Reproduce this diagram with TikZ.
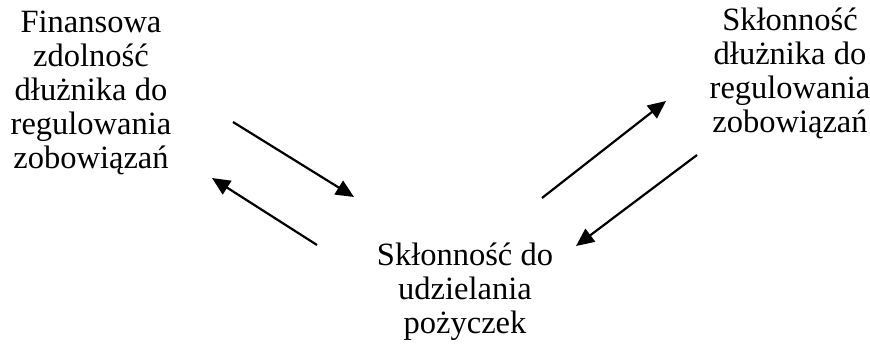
\documentclass[tikz,border=0pt]{standalone}
\usepackage{fontspec}
\setmainfont{Liberation Serif}
\usetikzlibrary{arrows.meta}
\begin{document}
\begin{tikzpicture}[x=1pt,y=1pt,
  label/.style={align=center,inner sep=0pt,anchor=base,
    font=\fontsize{32.5}{34}\selectfont},
  link/.style={line width=2.2pt,-{Triangle[length=18pt,width=16pt]}}]
  \useasboundingbox (0,0) rectangle (870,-350);
  % the three text blocks, placed by the baseline of their last line
  \node[label] (fin) at (91,-168) {Finansowa\\zdolność\\dłużnika do\\regulowania\\zobowiązań};
  \node[label] (skl) at (790,-133) {Skłonność\\dłużnika do\\regulowania\\zobowiązań};
  \node[label] (udz) at (465,-333) {Skłonność do\\udzielania\\pożyczek};
  % arrow end points between the blocks
  \coordinate (a1s) at (233,-122);
  \coordinate (a1e) at (354,-197);
  \coordinate (a2s) at (317,-245);
  \coordinate (a2e) at (212,-178);
  \coordinate (a3s) at (542,-198);
  \coordinate (a3e) at (666,-101);
  \coordinate (a4s) at (697,-155);
  \coordinate (a4e) at (576,-246);
  \draw[link] (a1s) -- (a1e);
  \draw[link] (a2s) -- (a2e);
  \draw[link] (a3s) -- (a3e);
  \draw[link] (a4s) -- (a4e);
\end{tikzpicture}
\end{document}
